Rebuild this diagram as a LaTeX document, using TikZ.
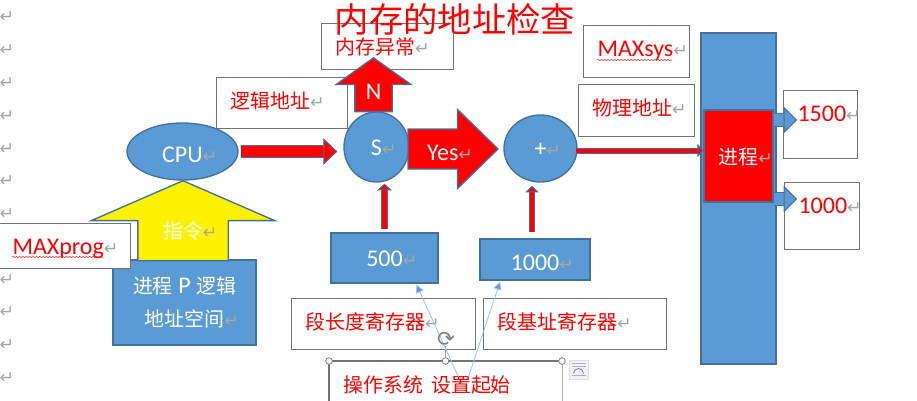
\documentclass[tikz,border=0pt]{standalone}
\usepackage{fontspec}
\setmainfont{Carlito}
\newfontfamily\cjk[Scale=0.83]{Noto Sans CJK SC}
\newfontfamily\symfont{DejaVu Sans}
\usetikzlibrary{shapes.arrows, shapes.geometric, positioning, calc, arrows.meta, decorations.pathmorphing}
\definecolor{boxblue}{HTML}{5B9BD5}
\definecolor{edgeblue}{HTML}{41719C}
\definecolor{markgray}{HTML}{A6A6A6}
\newcommand{\parmark}{{\color{markgray}\symfont\fontsize{13}{13}\selectfont ↵}}
\newcommand{\midmark}{\rlap{\parmark}}

\begin{document}
\begin{tikzpicture}[x=.75pt, y=-.75pt, >=stealth,
    every node/.style={font=\fontsize{18}{22}\selectfont},
    wordbox/.style 2 args={rectangle, draw=gray!90!black, fill=white, line width=.75pt, text=red, anchor=north west,
      align=left, text width={(#1-28)*.75pt}, inner xsep=10.5pt, inner ysep=0pt,
      text height=23.25pt, text depth={(#2-31)*.75pt}},
    bluebox/.style 2 args={draw=edgeblue, fill=boxblue, line width=1pt, text=white, inner sep=0pt,
      minimum width=#1*.75pt, minimum height=#2*.75pt},
    drop/.style={text height={2*#1*.75pt}, text depth=0pt},
    blockarrow/.style={single arrow, draw=edgeblue, line width=1pt, anchor=tip, inner sep=0pt,
      single arrow head indent=0pt},
    fatlink/.style n args={4}{draw=edgeblue, line width=.75pt, double=#1, double distance=#2,
      -{Triangle[length=#3, width=#4, fill=#1, color=edgeblue, line width=.75pt]}},
    marginmark/.style={text=markgray, font=\symfont\fontsize{13}{13}\selectfont, inner sep=0pt},
    handle/.style={circle, draw=gray, fill=white, line width=.6pt, minimum size=5pt, inner sep=0pt},
    squiggle/.style={draw=red!80, line width=.4pt, decorate, decoration={snake, amplitude=.5pt, segment length=2.5pt}},
    callout/.style={draw=boxblue!60, line width=.6pt, -{Triangle[length=6pt, width=6pt, fill=boxblue]}}]

  \useasboundingbox (0,0) rectangle (917,400);

  \foreach \y in {17,50,83,116,149,181,214,247,280,312,345,378}
    \node[marginmark] (m\y) at (7,\y) {↵};

  \node[wordbox={131}{51}] (logaddr) at (216,77) {\cjk 逻辑地址\parmark};
  \node[wordbox={132}{46}] (fault) at (321,23) {\cjk 内存异常\parmark};
  \node[wordbox={106}{52}] (maxsys) at (583,25) {MAXsys\parmark};
  \node[wordbox={116}{52}] (phyaddr) at (578,84) {\cjk 物理地址\parmark};
  \node[wordbox={74}{68}] (v1500) at (783,90) {1500\parmark};
  \node[wordbox={75}{67}] (v1000) at (784,182) {1000\parmark};
  \node[wordbox={184}{51}] (lenreg) at (291,298) {\cjk 段长度寄存器\parmark};
  \node[wordbox={183}{51}] (basereg) at (483,298) {\cjk 段基址寄存器\parmark};

  \node[bluebox={143}{85}, align=center, font=\fontsize{18}{24.75}\selectfont] (space) at (184.5,302.5)
    {{\cjk 进程} P {\cjk 逻辑}\\{\cjk 地址空间}\midmark};
  \node[blockarrow, fill=yellow, text=white, shape border rotate=90, minimum width=136.5pt, minimum height=60pt,
    text width=66.75pt, align=center, single arrow head extend=34.9pt, single arrow tip angle=133] (ins) at (183,180) {{\cjk 指令}\midmark};
  \node[wordbox={132}{45}] (maxprog) at (-2,223) {MAXprog\parmark};
  \draw[squiggle] ([shift={(14,34)}]maxprog.north west) -- ++(91,0);
  \draw[squiggle] ([shift={(14,35)}]maxsys.north west) -- ++(75,0);

  \node[bluebox={111}{57}, ellipse, drop=11] (cpu) at (182.5,151.5) {CPU\midmark};
  \node[bluebox={65}{70}, ellipse, drop=8] (s) at (376.5,147) {S\midmark};
  \node[bluebox={73}{67}, ellipse, drop=8] (plus) at (540.5,148.5) {+\midmark};
  \node[bluebox={75}{331}] (bar) at (738.5,198.5) {};
  \node[bluebox={69}{92}, fill=red, drop=8] (proc) at (738.5,156) {{\cjk 进程}\midmark};
  \node[bluebox={107}{50}, drop=8] (b500) at (384.5,258) {500\midmark};
  \node[bluebox={110}{41}, drop=11] (b1000) at (535,259.5) {1000\midmark};

  \node[blockarrow, fill=red, text=white, shape border rotate=90, minimum width=55pt, minimum height=40.5pt,
    text width=27pt, align=center, single arrow head extend=14pt, single arrow tip angle=109] (no) at (373.5,57) {\raisebox{-2.25pt}{N}};
  \node[blockarrow, fill=red, text=white, minimum width=58.5pt, minimum height=67.5pt, text height=18.25pt, text depth=10.75pt,
    single arrow head extend=14.6pt, single arrow tip angle=88.5] (yes) at (499,149) {\raisebox{-5pt}{Yes\midmark}};

  \draw[fatlink={red}{8pt}{10.5pt}{20pt}, shorten <=1.5pt, shorten >=4.5pt] (cpu.east) -- (s.west |- cpu.east);
  \draw[fatlink={red}{3pt}{4.5pt}{10pt}, shorten <=-1.5pt] ([yshift=-1.5pt]plus.east) -- ([yshift=-1.5pt]plus.east -| proc.west);
  \draw[fatlink={red}{3.5pt}{5pt}{11pt}, shorten <=2.25pt, shorten >=.75pt] (b500.north) -- (b500.north |- s.south);
  \draw[fatlink={red}{3.5pt}{5pt}{10pt}, shorten <=4.5pt, shorten >=2.25pt] ([xshift=-2.25pt]b1000.north) -- ([xshift=-2.25pt]b1000.north |- plus.south);
  \draw[fatlink={boxblue}{9pt}{10pt}{20pt}] ([yshift=3.4pt]proc.east |- v1500.center) -- ([shift={(14,-4.5)}]v1500.west);
  \draw[fatlink={boxblue}{9pt}{10pt}{20pt}] ([yshift=12.75pt]proc.east |- v1000.center) -- ([shift={(13,-17)}]v1000.west);

  \node[wordbox={232}{41}, draw=none, fill=none] (sysbox) at (329,361) {{\cjk 操作系统 设置起始}};
  \draw[gray!90!black, line width=.9pt] (sysbox.south west) -- (sysbox.north west) -- (sysbox.north east);
  \draw[gray!60, line width=.5pt] (sysbox.north east) -- (sysbox.south east);
  \draw[gray!70, line width=.5pt] (sysbox.north) -- ++(0,-15);
  \draw[callout] ([shift={(13,16)}]sysbox.north) -- ([shift={(32,1)}]b500.south);
  \draw[callout] ([shift={(23,16)}]sysbox.north) -- ([shift={(-35,1)}]b1000.south);
  \foreach \a/\n in {north west/hl, north/hm, north east/hr}
    \node[handle] (\n) at (sysbox.\a) {};
  \node[text=gray, font=\symfont\fontsize{16}{16}\selectfont, inner sep=0pt] (turn) at (446,339) {⟳};
  \node[rectangle, draw=gray!25, fill=blue!6, minimum size=14pt, inner sep=0pt] (layout) at (578.5,369.5) {};
  \draw[gray, line width=.6pt] ([shift={(-5,4)}]layout.center) arc[start angle=180, end angle=360, radius=5];
  \foreach \d in {-6,-3,6}
    \draw[gray!60, line width=.5pt] ([shift={(-7,\d)}]layout.center) -- ++(14,0);

  \node[text=red, font=\cjk\fontsize{31}{36}\selectfont, inner sep=0pt] (title) at (455,19) {内存的地址检查};
\end{tikzpicture}
\end{document}
